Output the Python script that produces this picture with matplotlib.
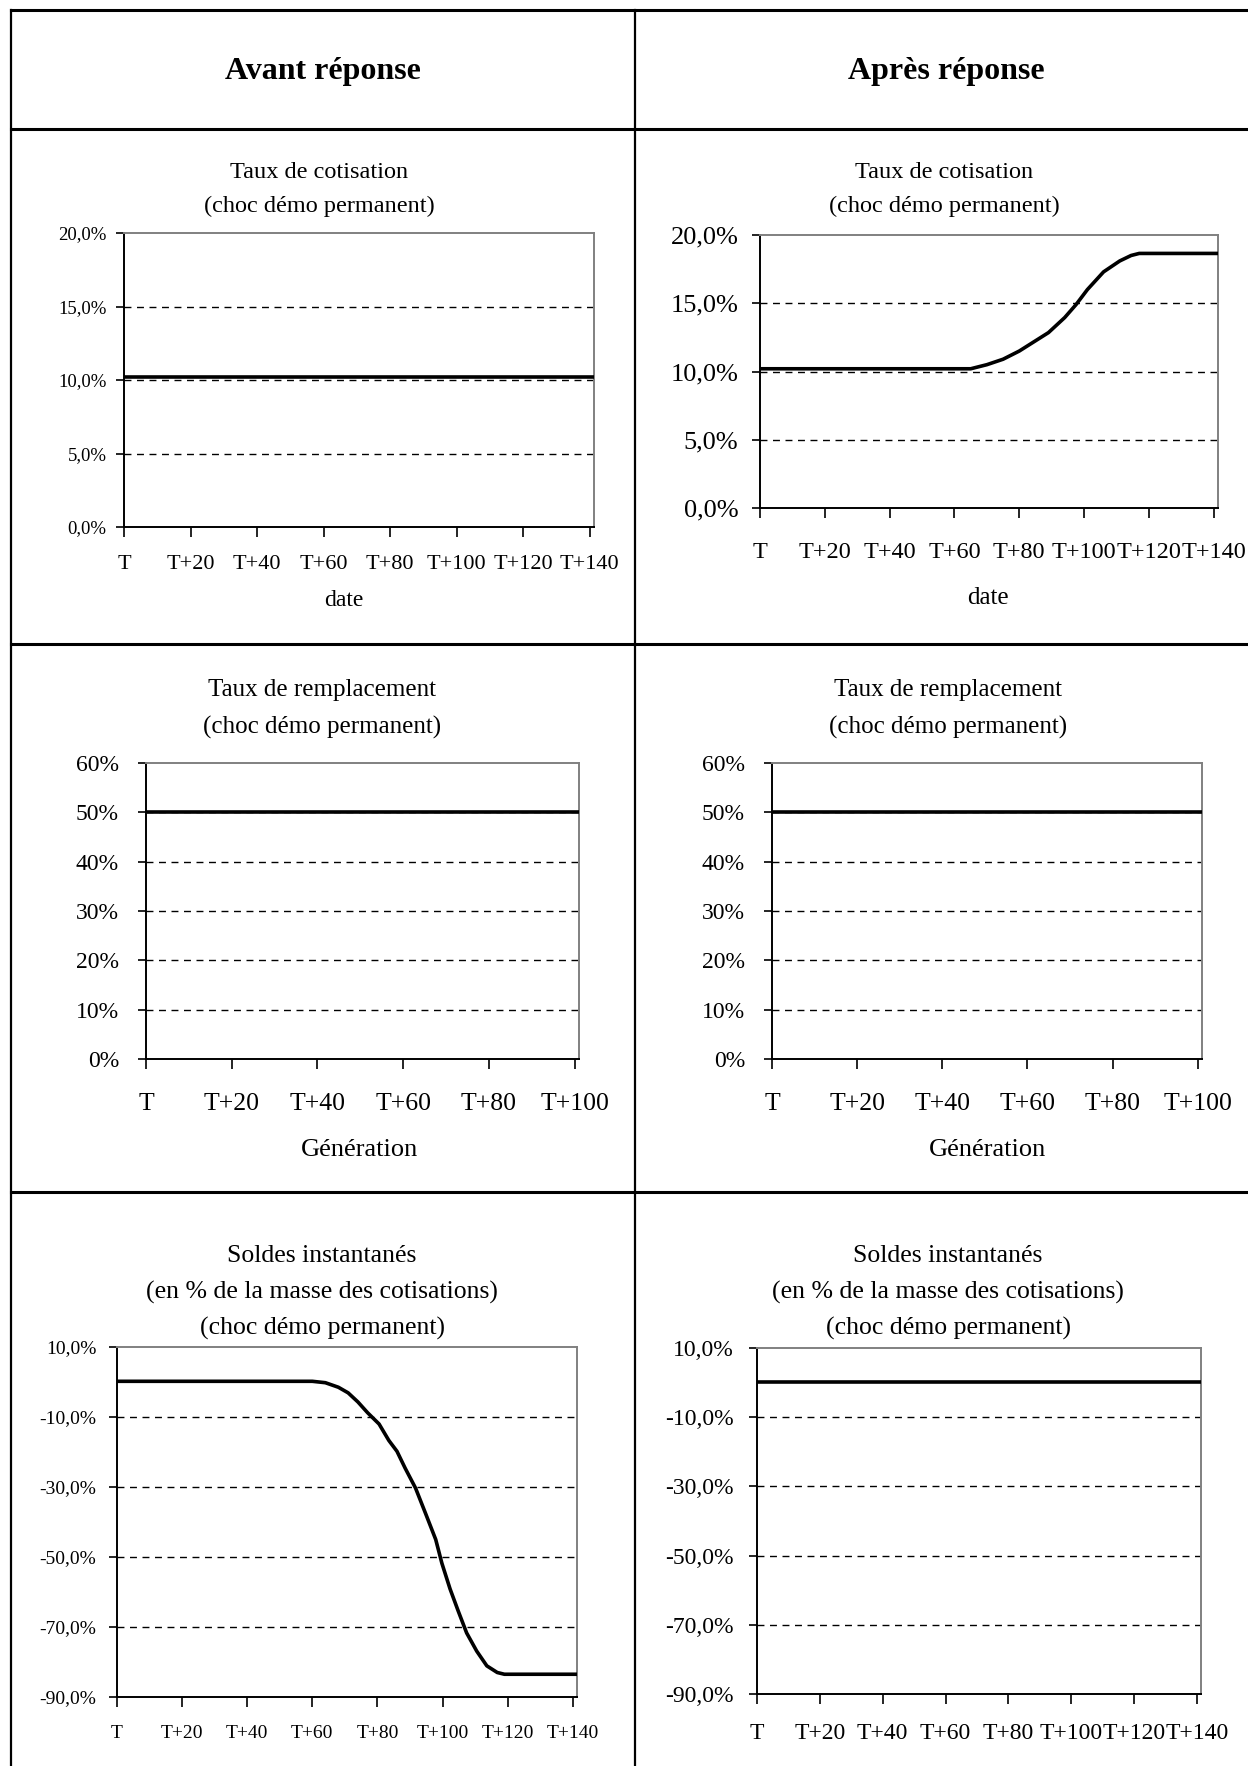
import numpy as np
import matplotlib
matplotlib.use("Agg")
import matplotlib.pyplot as plt
from matplotlib.lines import Line2D

plt.rcParams['font.family'] = ['Liberation Serif', 'DejaVu Serif']

W, H = 1248, 1766

# --- data, values in % ---
headers = ["Avant réponse", "Après réponse"]

cot_ticks = [0, 20, 40, 60, 80, 100, 120, 140]
cot_labels = ["T", "T+20", "T+40", "T+60", "T+80", "T+100", "T+120", "T+140"]
gen_ticks = [0, 20, 40, 60, 80, 100]
gen_labels = ["T", "T+20", "T+40", "T+60", "T+80", "T+100"]

# taux de cotisation, avant reponse (flat)
cot_avant_x = [0, 141]
cot_avant_y = [10.2, 10.2]
# taux de cotisation, apres reponse
cot_apres_x = [0, 65, 70, 75, 80, 84, 89, 94, 97.5, 101, 106, 111, 114.5, 117, 141]
cot_apres_y = [10.2, 10.2, 10.5, 10.9, 11.5, 12.1, 12.85, 13.95, 14.9, 16.0, 17.3, 18.1, 18.5, 18.65, 18.65]

# taux de remplacement
remp_avant_x = [0, 101]
remp_avant_y = [50, 50]
remp_apres_x = [0, 101]
remp_apres_y = [50, 50]

# soldes instantanes
sol_avant_x = [0, 60, 64, 68, 71, 74, 77, 80.5, 83.5, 86, 88.5, 91.7, 94.8, 97.9, 99.8, 102.3,
               104.8, 107.4, 110.5, 113.6, 116.8, 119, 141]
sol_avant_y = [0.2, 0.2, -0.2, -1.5, -3.1, -5.7, -8.8, -12.0, -16.7, -19.8, -24.6, -30.3, -37.6,
               -45.0, -51.8, -59.1, -65.4, -71.7, -76.9, -81.1, -83.0, -83.5, -83.5]
sol_apres_x = [0, 141]
sol_apres_y = [0.1, 0.1]


def px_axes(fig, x0, y0, x1, y1):
    return fig.add_axes([x0 / W, 1 - y1 / H, (x1 - x0) / W, (y1 - y0) / H])


def style(ax, yticks, ylabels, xticks, xlabels, xlim, ylim, yfs, xfs, ypad, xpad):
    ax.set_xlim(xlim)
    ax.set_ylim(ylim)
    ax.set_yticks(yticks)
    ax.set_yticklabels(ylabels, fontsize=yfs)
    ax.set_xticks(xticks)
    ax.set_xticklabels(xlabels, fontsize=xfs)
    ax.tick_params(axis='y', direction='out', length=6, width=1.2, pad=ypad)
    ax.tick_params(axis='x', direction='out', length=7, width=1.2, pad=xpad)
    for s in ['left', 'bottom']:
        ax.spines[s].set_color('black')
        ax.spines[s].set_linewidth(1.4)
    for s in ['top', 'right']:
        ax.spines[s].set_color('#808080')
        ax.spines[s].set_linewidth(1.4)
    for v in yticks[1:-1]:
        ax.axhline(v, color='black', lw=1.0, ls=(0, (5, 4)), zorder=1)


def title(fig, lines, xc, ys, fs):
    for t, y in zip(lines, ys):
        fig.text(xc / W, 1 - y / H, t, ha='center', va='center', fontsize=fs)


fig = plt.figure(figsize=(W / 100, H / 100), dpi=100)

# table grid
for y in [10, 129, 644, 1192]:
    fig.add_artist(Line2D([11 / W, 1], [1 - y / H, 1 - y / H], color='black', lw=2.2))
for x in [11, 635]:
    fig.add_artist(Line2D([x / W, x / W], [1 - 10 / H, 0], color='black', lw=1.6))

fig.text(323 / W, 1 - 71 / H, headers[0], ha='center', va='center', fontsize=23, fontweight='bold')
fig.text(946 / W, 1 - 71 / H, headers[1], ha='center', va='center', fontsize=23, fontweight='bold')

cot_yt = [0, 5, 10, 15, 20]
cot_yl = ["0,0%", "5,0%", "10,0%", "15,0%", "20,0%"]
remp_yt = [0, 10, 20, 30, 40, 50, 60]
remp_yl = ["0%", "10%", "20%", "30%", "40%", "50%", "60%"]
sol_yt = [-90, -70, -50, -30, -10, 10]
sol_yl = ["-90,0%", "-70,0%", "-50,0%", "-30,0%", "-10,0%", "10,0%"]
LW = 2.6

# --- row 1: taux de cotisation ---
ax = px_axes(fig, 124, 233, 594, 527)
style(ax, cot_yt, cot_yl, cot_ticks, cot_labels, (0, 141.3), (0, 20), 13.5, 16, 6.5, 13)
ax.plot(cot_avant_x, cot_avant_y, color='black', lw=LW, zorder=3)
title(fig, ["Taux de cotisation", "(choc démo permanent)"], 319, [172, 206], 17.5)
fig.text(344 / W, 1 - 601 / H, "date", ha='center', va='center', fontsize=17)

ax = px_axes(fig, 760, 235, 1218, 508)
style(ax, cot_yt, cot_yl, cot_ticks, cot_labels, (0, 141.3), (0, 20), 19, 17.5, 9.5, 17.5)
ax.plot(cot_apres_x, cot_apres_y, color='black', lw=LW, zorder=3)
title(fig, ["Taux de cotisation", "(choc démo permanent)"], 944, [172, 206], 17.5)
fig.text(988 / W, 1 - 598 / H, "date", ha='center', va='center', fontsize=18)

# --- row 2: taux de remplacement ---
ax = px_axes(fig, 146, 763, 579, 1059)
style(ax, remp_yt, remp_yl, gen_ticks, gen_labels, (0, 101), (0, 60), 17, 18.5, 13.5, 17.7)
ax.plot(remp_avant_x, remp_avant_y, color='black', lw=LW, zorder=3)
title(fig, ["Taux de remplacement", "(choc démo permanent)"], 322, [690, 727], 18)
fig.text(360 / W, 1 - 1150 / H, "Génération", ha='center', va='center', fontsize=19)

ax = px_axes(fig, 772, 763, 1202, 1059)
style(ax, remp_yt, remp_yl, gen_ticks, gen_labels, (0, 101), (0, 60), 17, 18.5, 13.5, 17.7)
ax.plot(remp_apres_x, remp_apres_y, color='black', lw=LW, zorder=3)
title(fig, ["Taux de remplacement", "(choc démo permanent)"], 948, [690, 727], 18)
fig.text(988 / W, 1 - 1150 / H, "Génération", ha='center', va='center', fontsize=19)

# --- row 3: soldes instantanes ---
sol_title = ["Soldes instantanés", "(en % de la masse des cotisations)", "(choc démo permanent)"]
ax = px_axes(fig, 117, 1347, 577, 1697)
style(ax, sol_yt, sol_yl, cot_ticks, cot_labels, (0, 141.3), (-90, 10), 14, 14, 9, 13.5)
ax.plot(sol_avant_x, sol_avant_y, color='black', lw=LW, zorder=3)
title(fig, sol_title, 322, [1256, 1292, 1328], 18.5)

ax = px_axes(fig, 757, 1348, 1201, 1694)
style(ax, sol_yt, sol_yl, cot_ticks, cot_labels, (0, 141.3), (-90, 10), 17, 17, 11, 14)
ax.plot(sol_apres_x, sol_apres_y, color='black', lw=LW, zorder=3)
title(fig, sol_title, 948, [1256, 1292, 1328], 18.5)

fig.savefig("out.png", dpi=100)
